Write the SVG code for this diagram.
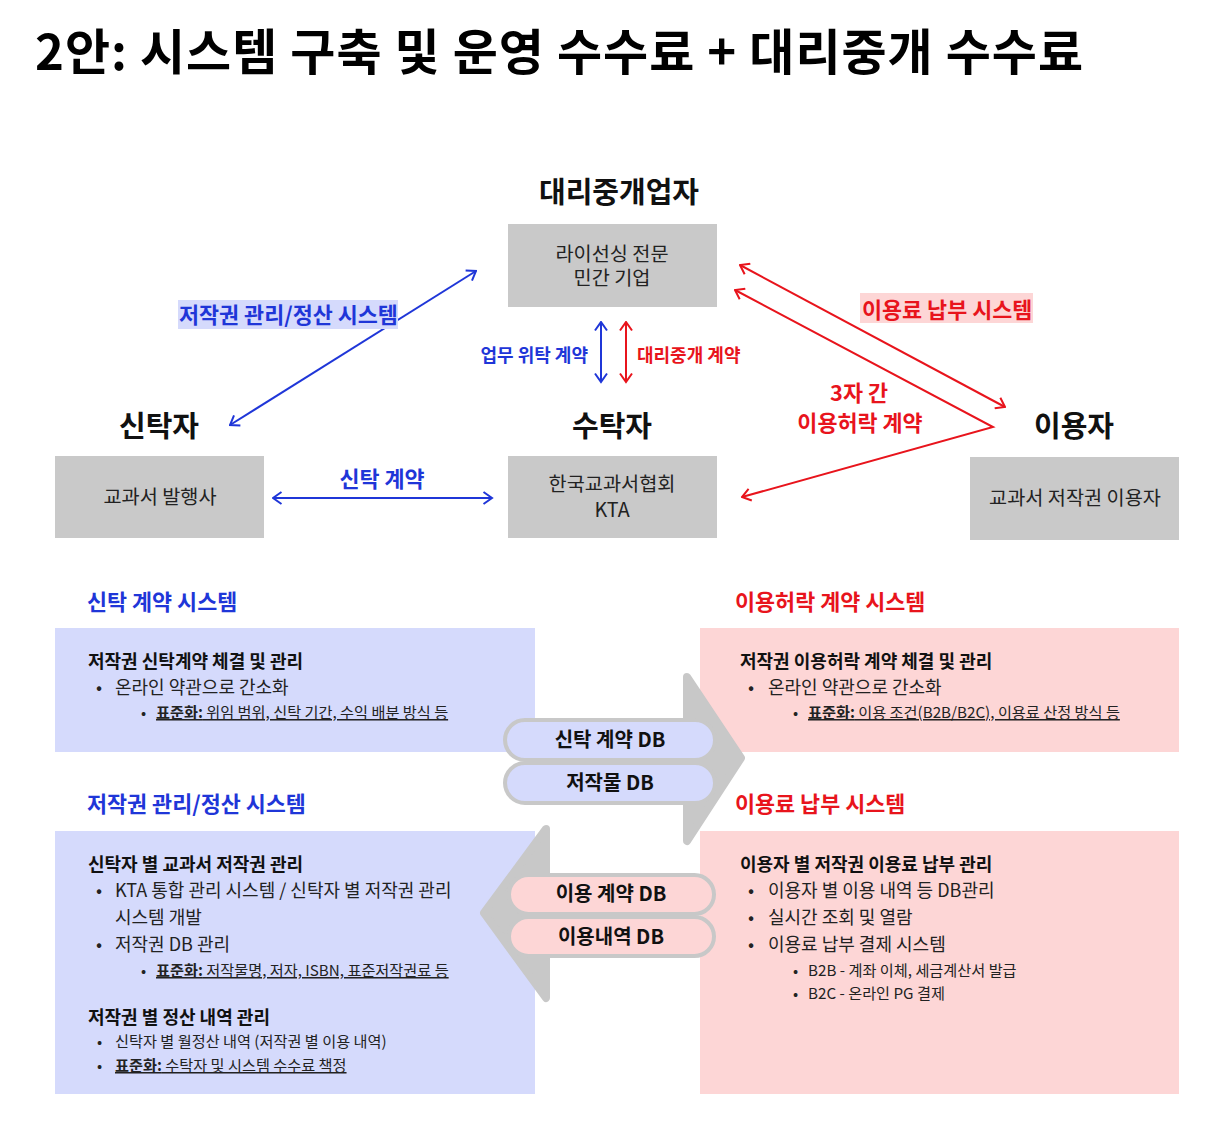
<svg xmlns="http://www.w3.org/2000/svg" width="1224" height="1138" viewBox="0 0 1224 1138">
<defs>
<style>
text{font-family:"Noto Sans CJK KR","Noto Sans",sans-serif;}
.title{font-size:49px;font-weight:700;fill:#000;}
.nt{font-size:29px;font-weight:700;fill:#111;text-anchor:middle;}
.bx{fill:#c9c9c9;}
.bt{font-size:19.7px;fill:#222;text-anchor:middle;}
.blue{fill:#1f36d8;}
.red{fill:#e8141c;}
.lbl{font-size:21.8px;font-weight:700;}
.sl{font-size:18px;font-weight:700;}
.lav{fill:#d5dafc;}
.pink{fill:#fdd6d6;}
.h{font-size:18px;font-weight:700;fill:#111;}
.b{font-size:18px;fill:#222;}
.s{font-size:15.2px;fill:#222;}
.u{text-decoration:underline;}
.bold{font-weight:700;}
.pill{stroke:#c8c8c8;stroke-width:4;}
.pt{font-size:20px;font-weight:700;fill:#111;text-anchor:middle;}
.ga{fill:#c8c8c8;stroke:#c8c8c8;stroke-width:8;stroke-linejoin:round;}
.gs{fill:#c8c8c8;}
.lb{stroke:#1f36d8;stroke-width:2;fill:none;}
.lr{stroke:#e8141c;stroke-width:2;fill:none;}
</style>
<marker id="mb" viewBox="0 0 12 14" refX="10.5" refY="7" markerWidth="12" markerHeight="14" markerUnits="userSpaceOnUse" orient="auto-start-reverse"><path d="M2,1 L10.5,7 L2,13" fill="none" stroke="#1f36d8" stroke-width="2"/></marker>
<marker id="mr" viewBox="0 0 12 14" refX="10.5" refY="7" markerWidth="12" markerHeight="14" markerUnits="userSpaceOnUse" orient="auto-start-reverse"><path d="M2,1 L10.5,7 L2,13" fill="none" stroke="#e8141c" stroke-width="2"/></marker>
</defs>
<rect width="1224" height="1138" fill="#fff"/>
<text class="title" x="35" y="70" textLength="1048" lengthAdjust="spacing">2안: 시스템 구축 및 운영 수수료 + 대리중개 수수료</text>

<g id="node-agent">
<text class="nt" x="619" y="203">대리중개업자</text>
<rect class="bx" x="508" y="224" width="209" height="83"/>
<text class="bt" x="612" y="261">라이선싱 전문<tspan x="612" dy="24">민간 기업</tspan></text>
</g>
<g id="node-truster">
<text class="nt" x="159" y="437">신탁자</text>
<rect class="bx" x="55" y="456" width="209" height="82"/>
<text class="bt" x="160" y="504">교과서 발행사</text>
</g>
<g id="node-trustee">
<text class="nt" x="612" y="437">수탁자</text>
<rect class="bx" x="508" y="456" width="209" height="82"/>
<text class="bt" x="612" y="491">한국교과서협회<tspan x="612" dy="26">KTA</tspan></text>
</g>
<g id="node-user">
<text class="nt" x="1074" y="437">이용자</text>
<rect class="bx" x="970" y="457" width="209" height="83"/>
<text class="bt" x="1075" y="505">교과서 저작권 이용자</text>
</g>

<g id="connectors">
<line class="lb" x1="476" y1="271" x2="230" y2="425" marker-start="url(#mb)" marker-end="url(#mb)"/>
<line class="lb" x1="273" y1="498" x2="492" y2="498" marker-start="url(#mb)" marker-end="url(#mb)"/>
<line class="lb" x1="601" y1="322" x2="601" y2="382" marker-start="url(#mb)" marker-end="url(#mb)"/>
<line class="lr" x1="626" y1="322" x2="626" y2="382" marker-start="url(#mr)" marker-end="url(#mr)"/>
<line class="lr" x1="740" y1="265" x2="1005" y2="407" marker-start="url(#mr)" marker-end="url(#mr)"/>
<polyline class="lr" points="735,290 993,427 742,497" marker-start="url(#mr)" marker-end="url(#mr)"/>
</g>

<g id="labels">
<rect x="178" y="300" width="220" height="29" fill="#d5dafc"/>
<text class="lbl blue" x="179" y="323">저작권 관리/정산 시스템</text>
<text class="sl blue" x="588" y="362" text-anchor="end">업무 위탁 계약</text>
<text class="sl red" x="637" y="362">대리중개 계약</text>
<text class="lbl blue" x="382" y="487" text-anchor="middle">신탁 계약</text>
<rect x="860" y="293" width="173" height="30" fill="#fdd6d6"/>
<text class="lbl red" x="862" y="318">이용료 납부 시스템</text>
<text class="lbl red" x="859" y="401" text-anchor="middle">3자 간</text>
<text class="lbl red" x="860" y="431" text-anchor="middle">이용허락 계약</text>
</g>

<g id="sys-trust">
<text class="lbl blue" x="87" y="610">신탁 계약 시스템</text>
<rect class="lav" x="55" y="628" width="480" height="124"/>
<text class="h" x="88" y="668">저작권 신탁계약 체결 및 관리</text>
<text class="b" x="96" y="694">•</text>
<text class="b" x="115" y="694">온라인 약관으로 간소화</text>
<text class="s" x="141" y="718">•</text>
<text class="s u" x="156" y="718"><tspan class="bold">표준화:</tspan> 위임 범위, 신탁 기간, 수익 배분 방식 등</text>
</g>

<g id="sys-license">
<text class="lbl red" x="735" y="610">이용허락 계약 시스템</text>
<rect class="pink" x="700" y="628" width="479" height="124"/>
<text class="h" x="740" y="668">저작권 이용허락 계약 체결 및 관리</text>
<text class="b" x="748" y="694">•</text>
<text class="b" x="768" y="694">온라인 약관으로 간소화</text>
<text class="s" x="793" y="718">•</text>
<text class="s u" x="808" y="718"><tspan class="bold">표준화:</tspan> 이용 조건(B2B/B2C), 이용료 산정 방식 등</text>
</g>

<g id="sys-settle">
<text class="lbl blue" x="87" y="812">저작권 관리/정산 시스템</text>
<rect class="lav" x="55" y="831" width="480" height="263"/>
<text class="h" x="88" y="871">신탁자 별 교과서 저작권 관리</text>
<text class="b" x="96" y="897">•</text>
<text class="b" x="115" y="897">KTA 통합 관리 시스템 / 신탁자 별 저작권 관리</text>
<text class="b" x="115" y="924">시스템 개발</text>
<text class="b" x="96" y="951">•</text>
<text class="b" x="115" y="951">저작권 DB 관리</text>
<text class="s" x="141" y="976">•</text>
<text class="s u" x="156" y="976"><tspan class="bold">표준화:</tspan> 저작물명, 저자, ISBN, 표준저작권료 등</text>
<text class="h" x="88" y="1024">저작권 별 정산 내역 관리</text>
<text class="s" x="97" y="1047">•</text>
<text class="s" x="115" y="1047">신탁자 별 월정산 내역 (저작권 별 이용 내역)</text>
<text class="s" x="97" y="1071">•</text>
<text class="s u" x="115" y="1071"><tspan class="bold">표준화:</tspan> 수탁자 및 시스템 수수료 책정</text>
</g>

<g id="sys-pay">
<text class="lbl red" x="735" y="812">이용료 납부 시스템</text>
<rect class="pink" x="700" y="831" width="479" height="263"/>
<text class="h" x="740" y="871">이용자 별 저작권 이용료 납부 관리</text>
<text class="b" x="748" y="897">•</text>
<text class="b" x="768" y="897">이용자 별 이용 내역 등 DB관리</text>
<text class="b" x="748" y="924">•</text>
<text class="b" x="768" y="924">실시간 조회 및 열람</text>
<text class="b" x="748" y="951">•</text>
<text class="b" x="768" y="951">이용료 납부 결제 시스템</text>
<text class="s" x="793" y="976">•</text>
<text class="s" x="808" y="976">B2B - 계좌 이체, 세금계산서 발급</text>
<text class="s" x="793" y="999">•</text>
<text class="s" x="808" y="999">B2C - 온라인 PG 결제</text>
</g>

<g id="flow-right">
<rect class="gs" x="527" y="724" width="165" height="76"/>
<polygon class="ga" points="687,677 741,758 687,841"/>
<rect class="pill lav" x="505" y="720" width="210" height="40" rx="20"/>
<rect class="pill lav" x="505" y="763" width="210" height="40" rx="20"/>
<text class="pt" x="610" y="747">신탁 계약 DB</text>
<text class="pt" x="610" y="790">저작물 DB</text>
</g>
<g id="flow-left">
<rect class="gs" x="540" y="878" width="152" height="76"/>
<polygon class="ga" points="546,829 484,913 546,998"/>
<rect class="pill pink" x="509" y="875" width="205" height="39" rx="19.5"/>
<rect class="pill pink" x="509" y="917" width="205" height="39" rx="19.5"/>
<text class="pt" x="611" y="901">이용 계약 DB</text>
<text class="pt" x="611" y="944">이용내역 DB</text>
</g>
</svg>
